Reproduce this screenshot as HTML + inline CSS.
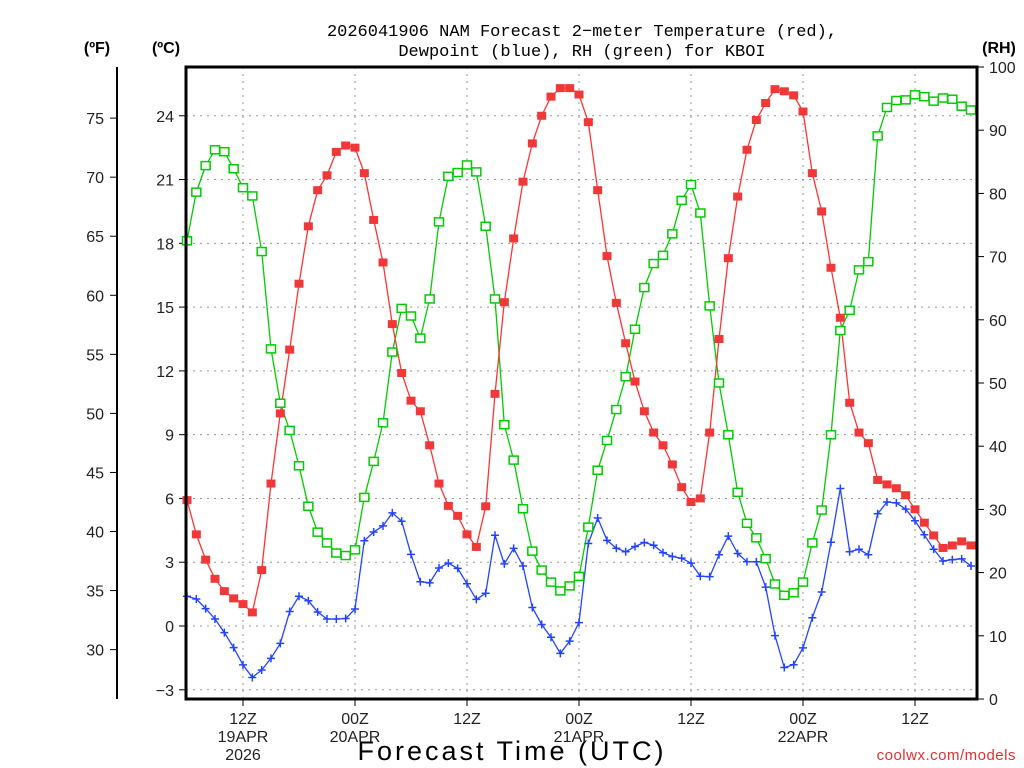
<!DOCTYPE html>
<html><head><meta charset="utf-8"><style>
html,body{margin:0;padding:0;background:#fff;}
svg{display:block;font-family:"Liberation Sans","DejaVu Sans",sans-serif;}
</style></head><body>
<svg id="chart" width="1024" height="768" viewBox="0 0 1024 768" xmlns="http://www.w3.org/2000/svg">
<rect width="1024" height="768" fill="#fff"/>
<text x="582" y="36" font-size="17" text-anchor="middle" fill="#000" font-family="Liberation Mono, monospace">2026041906 NAM Forecast 2−meter Temperature (red),</text>
<text x="582" y="56" font-size="17" text-anchor="middle" fill="#000" font-family="Liberation Mono, monospace">Dewpoint (blue), RH (green) for KBOI</text>
<text x="97" y="53" font-size="16" font-weight="bold" text-anchor="middle">(ºF)</text>
<text x="166" y="53" font-size="16" font-weight="bold" text-anchor="middle">(ºC)</text>
<text x="999" y="53" font-size="16" font-weight="bold" text-anchor="middle">(RH)</text>
<text x="512" y="760" font-size="27" text-anchor="middle" letter-spacing="3">Forecast Time (UTC)</text>
<text x="1016" y="760" font-size="15" text-anchor="end" fill="#e03030" letter-spacing="0.5">coolwx.com/models</text>
<g id="grid"></g><g id="axes"></g><g id="series"></g>
<rect x="186" y="67" width="791" height="632" fill="none" stroke="#000" stroke-width="3"/>
<line x1="117" y1="67" x2="117" y2="699" stroke="#000" stroke-width="2"/>
</svg>
<script>
const hours = [];
for (let h = 6; h <= 90; h++) hours.push(h);
const tempC = [5.92,4.31,3.12,2.22,1.64,1.30,1.03,0.64,2.63,6.70,10.0,13.0,16.1,18.8,20.5,21.2,22.3,22.6,22.5,21.3,19.1,17.1,14.2,11.9,10.6,10.1,8.5,6.7,5.65,
5.18,4.31,3.72,5.63,10.92,15.23,18.23,20.9,22.7,24.0,24.9,25.3,25.3,25.0,23.7,20.5,17.4,15.2,13.3,11.5,10.1,9.1,8.5,7.6,6.53,5.83,6.0,
9.1,13.5,17.3,20.2,22.4,23.8,24.6,25.25,25.15,24.96,24.2,21.3,19.5,16.85,14.5,10.5,9.1,8.6,6.87,6.66,6.48,6.15,5.49,4.86,4.26,3.67,3.79,3.98,3.79];
const dewC = [1.40,1.27,0.82,0.33,-0.31,-1.02,-1.83,-2.42,-2.07,-1.52,-0.82,0.68,1.40,1.19,0.66,0.33,0.33,0.35,0.80,4.01,4.42,4.71,5.32,4.93,3.37,2.08,2.03,2.73,2.96,
2.71,1.99,1.25,1.54,4.27,2.92,3.65,2.82,0.87,0.07,-0.53,-1.29,-0.71,0.16,3.88,5.08,4.03,3.66,3.49,3.74,3.93,3.80,3.45,3.27,3.19,2.96,2.34,
2.32,3.35,4.23,3.41,3.02,3.02,1.83,-0.45,-1.95,-1.82,-1.03,0.39,1.60,3.94,6.47,3.49,3.61,3.35,5.28,5.83,5.79,5.50,4.95,4.29,3.61,3.06,3.12,3.16,2.82];
const rh = [72.5,80.2,84.4,86.9,86.6,83.9,80.9,79.6,70.8,55.4,46.8,42.5,36.9,30.5,26.4,24.7,23.1,22.7,23.6,31.9,37.6,43.7,54.9,61.8,60.6,57.1,63.3,75.5,82.7,
83.3,84.5,83.4,74.8,63.3,43.4,37.8,30.1,23.4,20.4,18.5,17.1,17.9,19.4,27.2,36.2,40.9,45.8,51.0,58.5,65.1,68.9,70.2,73.6,78.9,81.4,76.9,
62.2,50.0,41.8,32.7,27.8,25.5,22.2,18.2,16.4,16.8,18.5,24.7,29.9,41.8,58.3,61.5,67.9,69.2,89.1,93.6,94.7,94.8,95.6,95.3,94.6,95.1,94.9,93.8,93.2];
const cTicks = [-3,0,3,6,9,12,15,18,21,24];
const fTicks = [30,35,40,45,50,55,60,65,70,75];
const rhTicks = [0,10,20,30,40,50,60,70,80,90,100];
const xTickHours = [12,24,36,48,60,72,84];
const xTickLabels = [["12Z","19APR","2026"],["00Z","20APR"],["12Z"],["00Z","21APR"],["12Z"],["00Z","22APR"],["12Z"]];

const NS = "http://www.w3.org/2000/svg";
const X0 = 186, X1 = 977, Y0 = 67, Y1 = 699;
const xOf = h => 243 + (h - 12) * 112 / 12;
const yC = c => 626 - c * 21.26;
const yF = f => yC((f - 32) * 5 / 9);
const yRH = r => Y1 - r * 6.32;
function mk(tag, attrs, parent, text) {
  const e = document.createElementNS(NS, tag);
  for (const k in attrs) e.setAttribute(k, attrs[k]);
  if (text !== undefined) e.textContent = text;
  parent.appendChild(e);
  return e;
}
const grid = document.getElementById('grid'), axes = document.getElementById('axes'), series = document.getElementById('series');
cTicks.forEach(c => {
  const y = yC(c);
  const g = mk('line', {x1: X0, x2: X1, y1: y, y2: y, stroke: '#999', 'stroke-width': 1, 'stroke-dasharray': '2,5'}, grid);
  
  
  const t = mk('line', {x1: X0 - 7, x2: X0, y1: y, y2: y, stroke: '#000', 'stroke-width': 1}, axes);
  
  
  const l = mk('text', {x: X0 - 12, y: y + 6, 'font-size': 16, 'text-anchor': 'end', fill: '#222'}, axes, c < 0 ? '−' + (-c) : String(c));
  
  
});
fTicks.forEach(f => {
  const y = yF(f);
  const t = mk('line', {x1: 110, x2: 117, y1: y, y2: y, stroke: '#000', 'stroke-width': 1}, axes);
  
  
  const l = mk('text', {x: 104, y: y + 6, 'font-size': 16, 'text-anchor': 'end', fill: '#222'}, axes, String(f));
  
  
});
rhTicks.forEach(r => {
  const y = yRH(r);
  const t = mk('line', {x1: X1, x2: X1 + 7, y1: y, y2: y, stroke: '#000', 'stroke-width': 1}, axes);
  
  
  const l = mk('text', {x: 989, y: y + 6, 'font-size': 16, fill: '#222'}, axes, String(r));
  
  
});
xTickHours.forEach((h, i) => {
  const x = xOf(h);
  const g = mk('line', {x1: x, x2: x, y1: Y0, y2: Y1, stroke: '#999', 'stroke-width': 1, 'stroke-dasharray': '2,5'}, grid);
  
  
  const t = mk('line', {x1: x, x2: x, y1: Y1, y2: Y1 + 7, stroke: '#000', 'stroke-width': 1}, axes);
  
  
  xTickLabels[i].forEach((s, j) => {
    const l = mk('text', {x: x, y: 724 + j * 18, 'font-size': 16, 'text-anchor': 'middle', fill: '#222'}, axes, s);
    
    
  });
});
function line(vals, yfn, color, name) {
  const pts = vals.map((v, i) => xOf(hours[i]).toFixed(1) + ',' + yfn(v).toFixed(1)).join(' ');
  const p = mk('polyline', {points: pts, fill: 'none', stroke: color, 'stroke-width': 1.3}, series);
  
  
}
line(rh, yRH, '#00cc00', 'rh-line');
line(dewC, yC, '#2244ff', 'dewpoint-line');
line(tempC, yC, '#ff3333', 'temperature-line');
rh.forEach((v, i) => {
  const m = mk('rect', {x: xOf(hours[i]) - 4.5, y: yRH(v) - 4, width: 9, height: 8, fill: '#fff', stroke: '#00cc00', 'stroke-width': 1.5}, series);
  
  
});
dewC.forEach((v, i) => {
  const x = xOf(hours[i]), y = yC(v);
  const m = mk('path', {d: `M${x-4},${y}H${x+4}M${x},${y-4}V${y+4}`, stroke: '#2244ff', 'stroke-width': 1.5, fill: 'none'}, series);
  
  
});
tempC.forEach((v, i) => {
  const m = mk('rect', {x: xOf(hours[i]) - 4.5, y: yC(v) - 4, width: 9, height: 8, fill: '#f03838'}, series);
  
  
});
</script>
</body></html>
